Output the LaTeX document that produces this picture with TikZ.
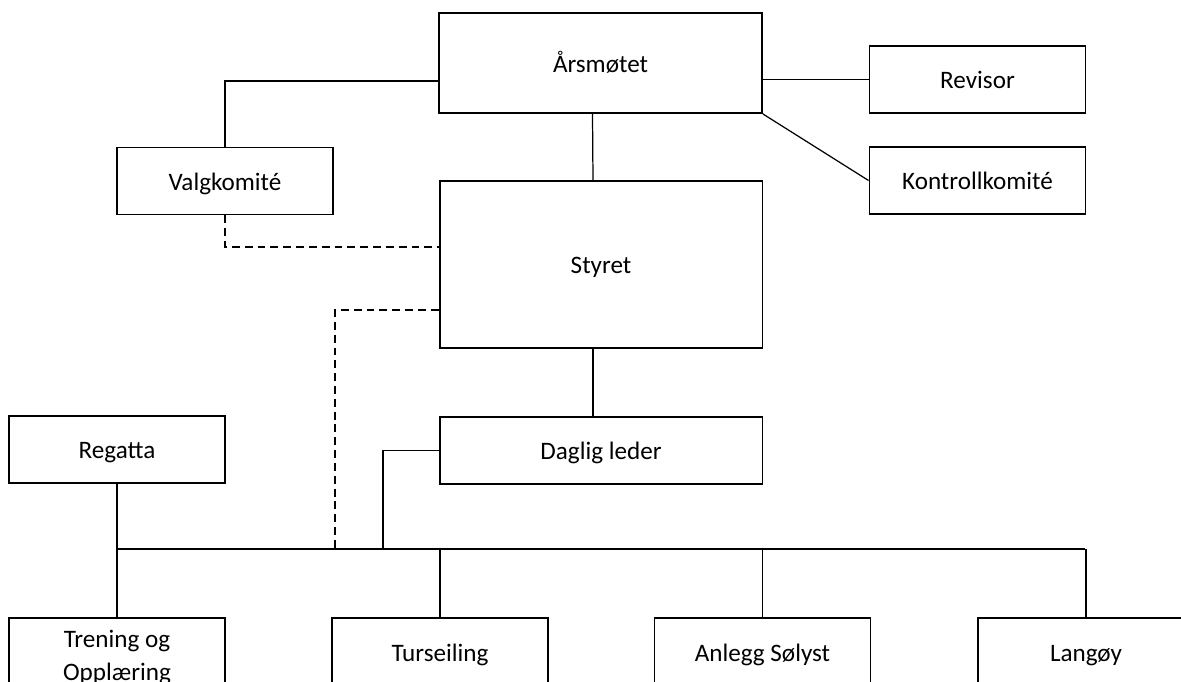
\documentclass[tikz,border=0pt]{standalone}
\usepackage{fontspec}
\setmainfont{Carlito}
\usepackage{tikz}
\usetikzlibrary{positioning,calc}

\begin{document}
\begin{tikzpicture}
  [
    x=0.02cm, y=-0.02cm,
    Box/.style={rectangle, draw=black, line width=1.1pt, minimum width=4.32cm, minimum height=1.34cm, inner sep=0pt, align=center, font=\fontsize{14.3}{18.8}\selectfont},
    One/.style={Box, text height=14pt, text depth=3.2pt},
    Big/.style={One, minimum width=6.46cm},
    Line/.style={draw, line width=0.7pt},
    DashLine/.style={Line, dash pattern=on 4.5pt off 2.8pt}
  ]
  \useasboundingbox (0,0) rectangle (1181,681);
  \fill[white] (0,0) rectangle (1181,681);
  \clip (0,0) rectangle (1181,681);
  % Nodes
  \node[Big, minimum height=2cm] (aars) at (600.5, 63) {Årsmøtet};
  \node[One] (rev) at (977.5, 79.5) {Revisor};
  \node[One] (kontr) at (977.5, 180.5) {Kontrollkomité};
  \node[One] (valg) at (225, 181) {Valgkomité};
  \node[Big, minimum height=3.34cm] (styret) at (601, 264.5) {Styret};
  \node[Big] (daglig) at (601, 450.5) {Daglig leder};
  \node[One] (regatta) at (117, 449.5) {Regatta};
  \node[Box] (trening) at (117, 651.5) {\rule{0pt}{1.2em}Trening og\\Opplæring};
  \node[One] (turs) at (440, 651.5) {Turseiling};
  \node[One] (anlegg) at (762.5, 651.5) {Anlegg Sølyst};
  \node[One] (langoy) at (1086, 651.5) {Langøy};
  % Junctions on the bus
  \coordinate (busL) at (116, 549);
  \coordinate (busR) at (1085, 549);
  \coordinate (jstyret) at (335, 549);
  \coordinate (jdaglig) at (383, 549);
  % Lines
  \path[Line] ($(aars.west)+(0,18)$) -| (valg.north);
  \path[Line] (rev.west -| aars.east) -- (rev.west);
  \path[Line] (aars.south east) -- (kontr.west);
  \path[Line] ($(aars.south)+(-8,0)$) -- ($(styret.north)+(-8,0)$);
  \path[Line] ($(styret.south)+(-8,0)$) -- ($(daglig.north)+(-8,0)$);
  \path[DashLine] (valg.south) |- ($(styret.west)+(0,-17.5)$);
  \path[DashLine] ($(styret.west)+(0,45.5)$) -| (jstyret);
  \path[Line] (daglig.west) -| (jdaglig);
  \path[Line] (busL) -- (busR);
  \path[Line] (regatta.south) -- (trening.north);
  \path[Line] (turs.north) -- (turs.north |- busL);
  \path[Line] (anlegg.north) -- (anlegg.north |- busL);
  \path[Line] (langoy.north) -- (langoy.north |- busL);
\end{tikzpicture}
\end{document}
